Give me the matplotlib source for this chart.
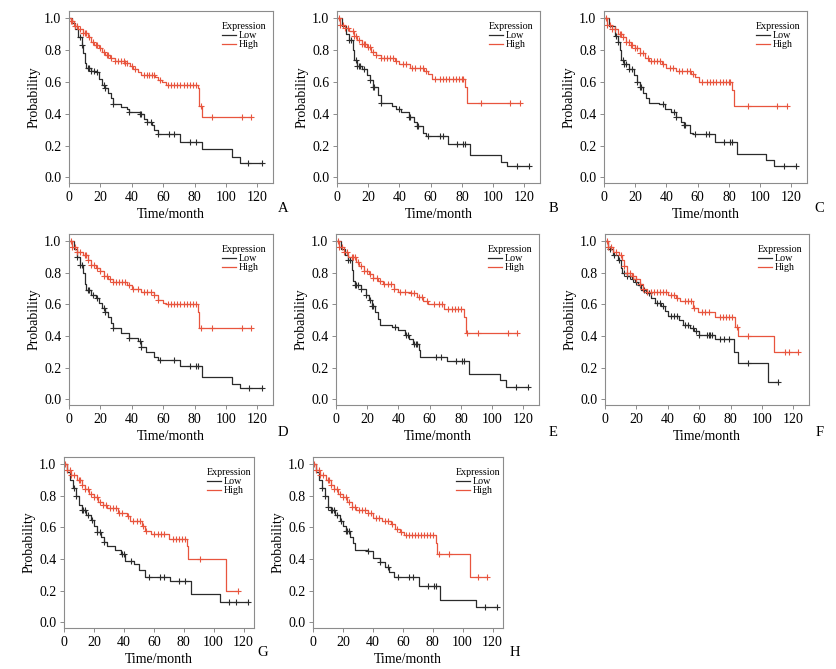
import numpy as np
import matplotlib
matplotlib.use('Agg')
import matplotlib.pyplot as plt

plt.rcParams['font.family'] = ['Liberation Serif', 'DejaVu Serif']

# ---- data: (event time, survival after step), censor times ----
a_low_t = [0, 2, 4, 6, 8, 9, 10, 11, 14, 17, 19, 21, 23, 25, 27, 28, 33, 37, 38, 45, 48, 50, 53, 54, 57, 71, 85, 104, 109]
a_low_s = [1.0, 0.97, 0.93, 0.88, 0.83, 0.78, 0.72, 0.69, 0.67, 0.66, 0.62, 0.58, 0.56, 0.53, 0.50, 0.46, 0.44, 0.43, 0.41, 0.40, 0.37, 0.35, 0.33, 0.30, 0.27, 0.22, 0.18, 0.13, 0.09]
a_low_c = [7, 8, 12, 13, 14, 16, 18, 22, 23, 28, 38, 45, 46, 50, 52, 57, 64, 67, 77, 81, 114, 123]
a_high_t = [0, 1, 3, 6, 9, 12, 14, 16, 19, 21, 23, 26, 29, 36, 39, 41, 44, 46, 55, 57, 59, 62, 82, 83, 85]
a_high_s = [1.0, 0.98, 0.95, 0.93, 0.91, 0.88, 0.85, 0.83, 0.81, 0.79, 0.77, 0.75, 0.73, 0.72, 0.70, 0.68, 0.66, 0.64, 0.63, 0.61, 0.60, 0.58, 0.56, 0.45, 0.38]
a_high_c = [1, 2, 4, 5, 7, 9, 10, 11, 13, 15, 17, 18, 20, 22, 24, 25, 27, 29, 31, 33, 35, 36, 37, 40, 42, 48, 50, 51, 53, 54, 58, 63, 65, 67, 69, 71, 73, 75, 77, 79, 81, 84, 91, 110, 116]

b_low_t = [0, 3, 6, 8, 10, 11, 13, 16, 19, 21, 23, 26, 28, 35, 38, 41, 46, 49, 51, 55, 57, 71, 85, 105, 109]
b_low_s = [1.0, 0.95, 0.90, 0.86, 0.80, 0.74, 0.70, 0.68, 0.64, 0.61, 0.57, 0.52, 0.47, 0.45, 0.43, 0.41, 0.38, 0.35, 0.32, 0.28, 0.26, 0.21, 0.14, 0.10, 0.07]
b_low_c = [8, 9, 12, 13, 14, 15, 17, 21, 23, 24, 28, 40, 46, 47, 51, 52, 58, 66, 68, 77, 81, 82, 115, 123]
b_high_t = [0, 2, 5, 8, 11, 13, 16, 19, 22, 25, 28, 37, 40, 47, 56, 58, 61, 82, 83]
b_high_s = [1.0, 0.96, 0.94, 0.92, 0.89, 0.86, 0.84, 0.82, 0.79, 0.77, 0.75, 0.73, 0.71, 0.69, 0.67, 0.65, 0.62, 0.57, 0.47]
b_high_c = [1, 2, 4, 5, 7, 10, 11, 12, 14, 16, 17, 18, 20, 21, 23, 25, 28, 30, 32, 34, 36, 38, 42, 44, 48, 50, 53, 55, 57, 63, 66, 68, 70, 72, 74, 76, 78, 80, 81, 92, 111, 117]

c_low_t = [0, 3, 7, 9, 10, 11, 13, 16, 19, 21, 23, 25, 27, 29, 35, 39, 43, 46, 49, 51, 55, 57, 71, 85, 104, 109]
c_low_s = [1.0, 0.95, 0.89, 0.85, 0.80, 0.74, 0.71, 0.68, 0.64, 0.60, 0.57, 0.53, 0.50, 0.47, 0.46, 0.43, 0.41, 0.38, 0.35, 0.33, 0.28, 0.27, 0.22, 0.15, 0.11, 0.07]
c_low_c = [8, 9, 12, 13, 14, 16, 18, 21, 23, 24, 38, 45, 46, 51, 52, 58, 65, 67, 77, 81, 82, 115, 123]
c_high_t = [0, 2, 5, 9, 12, 14, 17, 20, 23, 26, 29, 37, 40, 46, 56, 58, 61, 82, 83]
c_high_s = [1.0, 0.96, 0.93, 0.90, 0.88, 0.85, 0.83, 0.81, 0.78, 0.75, 0.73, 0.71, 0.69, 0.67, 0.65, 0.63, 0.60, 0.55, 0.45]
c_high_c = [1, 2, 4, 5, 7, 10, 11, 12, 14, 16, 17, 18, 20, 21, 23, 25, 28, 30, 32, 34, 36, 38, 42, 44, 48, 50, 53, 55, 57, 63, 66, 68, 70, 72, 74, 76, 78, 80, 81, 92, 111, 117]

d_low_t = [0, 3, 5, 7, 9, 10, 11, 14, 17, 19, 21, 23, 25, 27, 28, 33, 38, 44, 46, 49, 54, 57, 71, 85, 104, 109]
d_low_s = [1.0, 0.95, 0.90, 0.85, 0.80, 0.73, 0.69, 0.66, 0.64, 0.61, 0.58, 0.55, 0.52, 0.48, 0.45, 0.42, 0.39, 0.37, 0.33, 0.30, 0.27, 0.25, 0.21, 0.14, 0.10, 0.07]
d_low_c = [5, 7, 8, 12, 13, 15, 18, 22, 23, 28, 38, 45, 46, 58, 67, 77, 81, 82, 115, 123]
d_high_t = [0, 2, 5, 9, 12, 14, 17, 20, 22, 25, 28, 37, 40, 46, 54, 57, 60, 62, 82, 83]
d_high_s = [1.0, 0.96, 0.93, 0.91, 0.88, 0.85, 0.83, 0.81, 0.78, 0.76, 0.74, 0.72, 0.70, 0.68, 0.66, 0.63, 0.61, 0.60, 0.55, 0.45]
d_high_c = [1, 2, 4, 5, 7, 10, 11, 12, 14, 16, 18, 20, 22, 24, 26, 28, 30, 32, 34, 36, 38, 41, 44, 48, 50, 52, 54, 57, 63, 65, 67, 69, 71, 73, 75, 77, 79, 81, 84, 91, 110, 116]

e_low_t = [0, 3, 6, 8, 10, 11, 12, 16, 19, 21, 23, 25, 27, 28, 36, 40, 44, 47, 49, 53, 54, 71, 85, 105, 109]
e_low_s = [1.0, 0.95, 0.91, 0.88, 0.82, 0.75, 0.72, 0.70, 0.66, 0.63, 0.59, 0.55, 0.51, 0.47, 0.46, 0.44, 0.41, 0.38, 0.35, 0.31, 0.27, 0.24, 0.16, 0.12, 0.08]
e_low_c = [8, 9, 12, 13, 14, 16, 19, 22, 23, 24, 38, 45, 46, 50, 51, 52, 64, 67, 77, 81, 82, 115, 123]
e_high_t = [0, 2, 5, 8, 13, 15, 18, 21, 24, 27, 30, 37, 40, 48, 52, 56, 59, 69, 82, 83]
e_high_s = [1.0, 0.96, 0.93, 0.90, 0.87, 0.84, 0.81, 0.79, 0.77, 0.75, 0.73, 0.70, 0.68, 0.67, 0.65, 0.62, 0.60, 0.57, 0.52, 0.42]
e_high_c = [1, 2, 4, 5, 7, 10, 11, 12, 14, 16, 18, 20, 22, 24, 26, 28, 31, 33, 35, 37, 41, 44, 48, 50, 53, 55, 58, 63, 66, 68, 72, 74, 76, 78, 80, 84, 91, 110, 116]

f_low_t = [0, 2, 5, 8, 10, 11, 14, 17, 19, 21, 23, 26, 29, 32, 36, 38, 40, 47, 50, 54, 57, 60, 70, 82, 85, 104]
f_low_s = [1.0, 0.95, 0.91, 0.88, 0.83, 0.80, 0.78, 0.76, 0.74, 0.72, 0.69, 0.67, 0.64, 0.61, 0.59, 0.56, 0.53, 0.50, 0.47, 0.45, 0.43, 0.41, 0.38, 0.30, 0.23, 0.11]
f_low_c = [3, 6, 9, 12, 14, 16, 18, 20, 22, 25, 28, 33, 35, 37, 42, 44, 46, 51, 53, 56, 58, 60, 65, 66, 67, 68, 73, 76, 79, 91, 110]
f_high_t = [0, 2, 5, 9, 11, 12, 14, 17, 20, 22, 24, 27, 40, 45, 48, 56, 59, 70, 83, 85, 108]
f_high_s = [1.0, 0.96, 0.93, 0.91, 0.88, 0.84, 0.80, 0.78, 0.76, 0.73, 0.70, 0.68, 0.66, 0.64, 0.62, 0.58, 0.55, 0.52, 0.46, 0.40, 0.30]
f_high_c = [1, 2, 4, 7, 10, 12, 14, 16, 18, 20, 22, 24, 27, 29, 31, 33, 35, 37, 39, 42, 44, 46, 51, 53, 55, 57, 62, 64, 66, 73, 75, 77, 79, 81, 84, 91, 115, 117, 123]

g_low_t = [0, 2, 4, 6, 8, 10, 12, 15, 18, 20, 22, 25, 27, 29, 34, 38, 41, 47, 50, 54, 71, 85, 104]
g_low_s = [1.0, 0.95, 0.90, 0.85, 0.80, 0.74, 0.71, 0.68, 0.65, 0.61, 0.57, 0.54, 0.51, 0.48, 0.46, 0.43, 0.39, 0.37, 0.33, 0.29, 0.26, 0.18, 0.13]
g_low_c = [7, 8, 12, 13, 14, 16, 19, 22, 24, 27, 39, 40, 45, 57, 64, 67, 77, 81, 110, 115, 123]
g_high_t = [0, 2, 5, 9, 12, 14, 17, 20, 23, 26, 29, 36, 42, 44, 52, 54, 58, 70, 82, 83, 108]
g_high_s = [1.0, 0.96, 0.93, 0.90, 0.87, 0.84, 0.81, 0.79, 0.76, 0.74, 0.72, 0.69, 0.67, 0.64, 0.61, 0.58, 0.56, 0.53, 0.48, 0.40, 0.20]
g_high_c = [1, 2, 4, 5, 7, 10, 11, 12, 14, 16, 18, 20, 22, 24, 26, 28, 31, 33, 35, 37, 39, 43, 46, 49, 51, 53, 55, 60, 63, 65, 67, 73, 75, 77, 79, 81, 91, 116]

h_low_t = [0, 2, 4, 6, 8, 10, 12, 15, 18, 20, 22, 25, 27, 28, 37, 40, 45, 48, 51, 54, 71, 85, 109]
h_low_s = [1.0, 0.95, 0.90, 0.85, 0.80, 0.73, 0.71, 0.68, 0.64, 0.61, 0.58, 0.54, 0.50, 0.46, 0.45, 0.41, 0.38, 0.35, 0.32, 0.29, 0.23, 0.14, 0.10]
h_low_c = [6, 8, 10, 12, 13, 14, 16, 19, 22, 23, 24, 37, 45, 50, 57, 64, 67, 77, 81, 82, 115, 123]
h_high_t = [0, 2, 5, 9, 12, 14, 17, 20, 23, 26, 29, 37, 40, 46, 52, 55, 58, 61, 82, 83, 105]
h_high_s = [1.0, 0.96, 0.93, 0.90, 0.87, 0.84, 0.81, 0.79, 0.76, 0.73, 0.71, 0.69, 0.66, 0.64, 0.62, 0.59, 0.57, 0.55, 0.50, 0.43, 0.29]
h_high_c = [1, 2, 4, 5, 7, 10, 11, 12, 14, 16, 18, 20, 22, 24, 26, 28, 31, 33, 35, 37, 39, 42, 44, 48, 50, 53, 56, 59, 62, 64, 66, 68, 70, 72, 74, 76, 78, 80, 84, 91, 110, 116]

panel_labels = ['A', 'B', 'C', 'D', 'E', 'F', 'G', 'H']
panel_data = [
    (a_low_t, a_low_s, a_low_c, a_high_t, a_high_s, a_high_c),
    (b_low_t, b_low_s, b_low_c, b_high_t, b_high_s, b_high_c),
    (c_low_t, c_low_s, c_low_c, c_high_t, c_high_s, c_high_c),
    (d_low_t, d_low_s, d_low_c, d_high_t, d_high_s, d_high_c),
    (e_low_t, e_low_s, e_low_c, e_high_t, e_high_s, e_high_c),
    (f_low_t, f_low_s, f_low_c, f_high_t, f_high_s, f_high_c),
    (g_low_t, g_low_s, g_low_c, g_high_t, g_high_s, g_high_c),
    (h_low_t, h_low_s, h_low_c, h_high_t, h_high_s, h_high_c),
]

low_color = '#2b2b2b'
high_color = '#e8553e'
frame_color = '#8c8c8c'

W, H = 836, 669
# axes boxes in pixels: left, right, top, bottom
boxes = [(69, 273, 11, 183), (337, 540, 11, 183), (604, 807, 11, 183),
         (69, 273, 234, 405), (336, 539, 234, 405), (605, 809, 234, 405),
         (64, 254, 457, 628), (313, 503, 457, 628)]
xmax = [130, 130, 130, 130, 130, 130, 127, 127]
letter_pos = [(283, 208), (553, 208), (819, 208), (283, 432), (553, 432), (820, 432), (263, 652), (515, 652)]

fig = plt.figure(figsize=(W / 100, H / 100), dpi=100)


def km_curve(ax, t, s, cens, color):
    end = max(cens[-1], t[-1])
    ax.step(list(t) + [end], list(s) + [s[-1]], where='post', color=color, lw=0.9)
    idx = np.searchsorted(t, cens, side='right') - 1
    ax.plot(cens, np.array(s)[idx], ls='none', marker='+', ms=4.5, mew=0.8, color=color)


for i, (l, r, t, b) in enumerate(boxes):
    ax = fig.add_axes([l / W, 1 - b / H, (r - l) / W, (b - t) / H])
    lt, ls_, lc, ht, hs, hc = panel_data[i]
    km_curve(ax, lt, ls_, lc, low_color)
    km_curve(ax, ht, hs, hc, high_color)
    ax.set_xlim(0, xmax[i])
    ax.set_ylim(-0.035, 1.045)
    ax.set_xticks([0, 20, 40, 60, 80, 100, 120])
    ax.set_yticks([0.0, 0.2, 0.4, 0.6, 0.8, 1.0])
    ax.set_yticklabels(['0.0', '0.2', '0.4', '0.6', '0.8', '1.0'])
    for sp in ax.spines.values():
        sp.set_color(frame_color)
        sp.set_linewidth(0.8)
    ax.tick_params(length=3, width=0.7, color=frame_color, labelsize=10, pad=2.5)
    ax.set_xlabel('Time/month', fontsize=10, labelpad=3)
    ax.set_ylabel('Probability', fontsize=10, labelpad=2.5)

    # legend
    ax.plot([], [], color=low_color, lw=0.9, label='Low')
    ax.plot([], [], color=high_color, lw=0.9, label='High')
    handles, labels = ax.get_legend_handles_labels()
    leg = ax.legend(handles[-2:], labels[-2:], title='Expression', loc='upper left',
                    bbox_to_anchor=(0.72, 0.97), frameon=False, fontsize=7.2,
                    title_fontsize=7.2, handlelength=1.4, handletextpad=0.3,
                    labelspacing=0.0, borderpad=0.1, alignment='left')

    fig.text(letter_pos[i][0] / W, 1 - letter_pos[i][1] / H, panel_labels[i],
             fontsize=10.5, ha='center', va='center')

plt.savefig('out.png', dpi=100)
